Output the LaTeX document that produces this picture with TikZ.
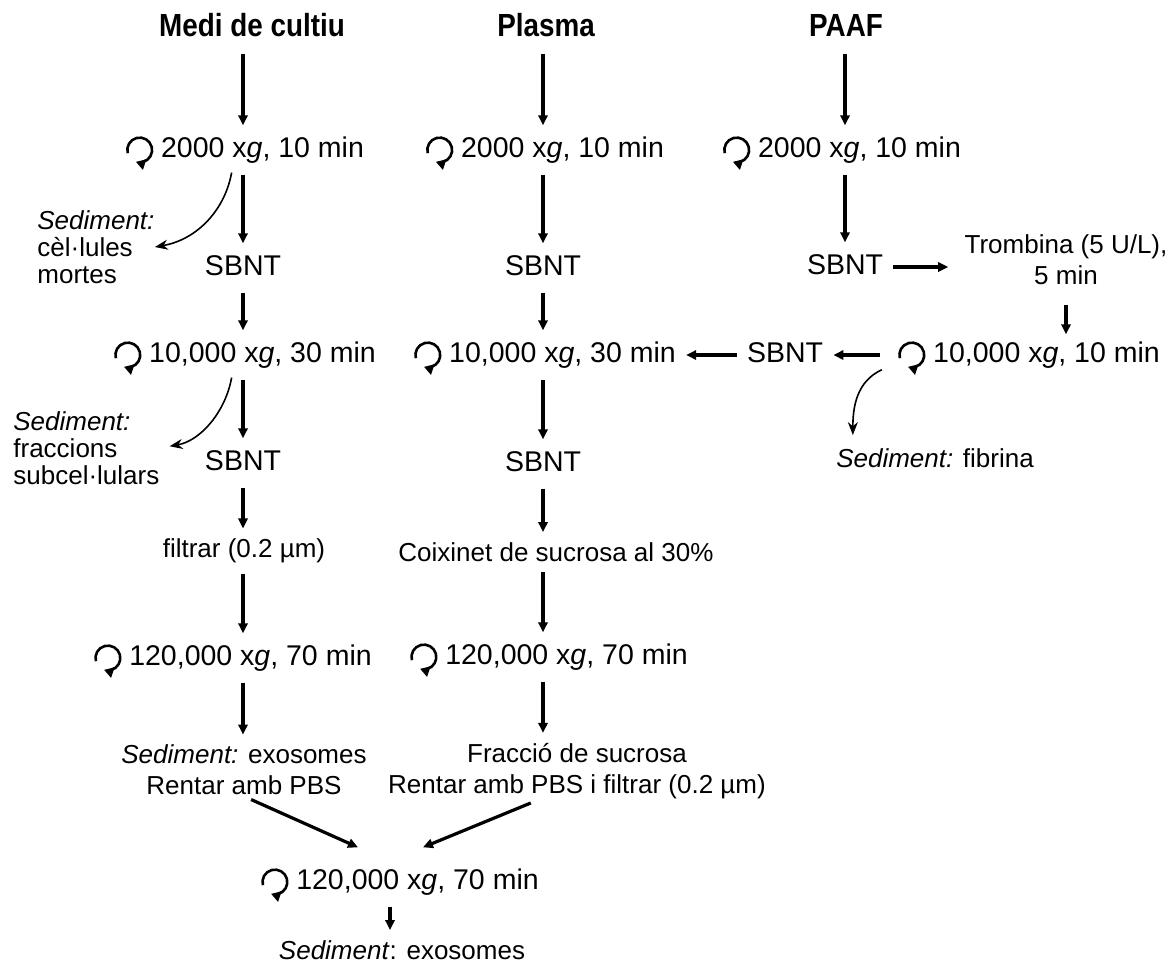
\documentclass[tikz,border=0pt]{standalone}
\usepackage{fontspec}
\setmainfont{Liberation Sans}
\newfontfamily\headfont[FakeStretch=0.87]{Liberation Sans}
\usepackage{tikz}
\usetikzlibrary{arrows.meta}

\begin{document}
\begin{tikzpicture}[x=0.5pt, y=-0.5pt,
    ttl/.style={font=\headfont\bfseries\fontsize{16}{19}\selectfont, inner sep=0pt, text height=12pt, text depth=4pt},
    big/.style={font=\fontsize{14.25}{17}\selectfont, inner sep=0pt, text height=10.7pt, text depth=3.6pt},
    cfg/.style={big, execute at begin node={\hspace*{17.5pt}}},
    lbl/.style={font=\fontsize{13}{15.5}\selectfont, inner sep=0pt},
    sedlbl/.style={font=\fontsize{13}{13.5}\selectfont, inner sep=0pt, align=left, anchor=west},
    arr/.style={line width=1.6pt, -{Triangle[length=5pt,width=4.6pt]}, shorten <=5pt, shorten >=5pt},
    curly/.style={line width=0.8pt, -{Stealth[length=6.5pt,width=5pt]}},
    spin/.pic={\draw[line width=1.3pt, -{Triangle[length=4.6pt,width=5.2pt]}] (195:6.2pt) arc[start angle=195, end angle=-108, radius=6.2pt];}]
    \useasboundingbox (0,0) rectangle (1171,970);

    % sources
    \node[ttl] (tL) at (252,28) {Medi de cultiu};
    \node[ttl] (tM) at (546,28) {Plasma};
    \node[ttl] (tR) at (846,28) {PAAF};

    % medi de cultiu
    \node[cfg] (aL1) at (245,150) {2000 x\textit{g}, 10 min};
    \node[big] (sL1) at (243,268) {SBNT};
    \node[sedlbl] (cL1) at (37,247) {\textit{Sediment:}\\cèl·lules\\mortes};
    \node[cfg] (aL2) at (245,355) {10,000 x\textit{g}, 30 min};
    \node[sedlbl] (cL2) at (13,448) {\textit{Sediment:}\\fraccions\\subcel·lulars};
    \node[big] (sL2) at (243,463) {SBNT};
    \node[lbl] (fL) at (244,551) {filtrar (0.2 µm)};
    \node[cfg] (aL3) at (233,658) {120,000 x\textit{g}, 70 min};
    \node[lbl, align=center] (eL) at (244,770) {\textit{Sediment:} exosomes\\Rentar amb PBS};

    % plasma
    \node[cfg] (aM1) at (545,150) {2000 x\textit{g}, 10 min};
    \node[big] (sM1) at (543,268) {SBNT};
    \node[cfg] (aM2) at (545,355) {10,000 x\textit{g}, 30 min};
    \node[big] (sM2) at (543,464) {SBNT};
    \node[lbl] (cM) at (556,552) {Coixinet de sucrosa al 30\%};
    \node[cfg] (aM3) at (549,657) {120,000 x\textit{g}, 70 min};
    \node[lbl, align=center] (fM) at (577,771) {Fracció de sucrosa\\Rentar amb PBS i filtrar (0.2 µm)};

    % PAAF
    \node[cfg] (aR1) at (842,150) {2000 x\textit{g}, 10 min};
    \node[big] (sR1) at (845,267) {SBNT};
    \node[lbl, align=center] (trR) at (1066,260) {Trombina (5 U/L),\\5 min};
    \node[cfg] (aR2) at (1029,355) {10,000 x\textit{g}, 10 min};
    \node[big] (sR2) at (785,355) {SBNT};
    \node[lbl] (cR) at (935,458) {\textit{Sediment:} fibrina};

    % pooled
    \node[cfg] (aB) at (400,882) {120,000 x\textit{g}, 70 min};
    \node[lbl] (eB) at (402,950) {\textit{Sediment}: exosomes};

    % rotor icons
    \foreach \n in {aL1,aL2,aL3,aM1,aM2,aM3,aR1,aR2,aB}
        \pic at ([xshift=7pt]\n.west) {spin};

    % columns
    \foreach \a/\b/\c in {tL/aL1/sL1, aL1/sL1/sL1, sL1/aL2/sL1, aL2/sL2/sL1, sL2/fL/sL1, fL/aL3/sL1, aL3/eL/sL1,
                          tM/aM1/sM1, aM1/sM1/sM1, sM1/aM2/sM1, aM2/sM2/sM1, sM2/cM/sM1, cM/aM3/sM1, aM3/fM/sM1,
                          tR/aR1/sR1, aR1/sR1/sR1}
        \draw[arr] (\a.south -| \c) -- (\b.north -| \c);

    % PAAF side branch
    \draw[arr, shorten >=8pt] (sR1.east) -- (trR.west |- sR1);
    \draw[arr, shorten <=10pt, shorten >=3pt] (trR.south) -- (trR.south |- aR2.north);
    \draw[arr, shorten <=9pt] (aR2.west) -- (sR2.east);
    \draw[arr] (sR2.west) -- (aM2.east |- sR2);

    % pellets
    \draw[curly, shorten <=4pt] ([xshift=-6pt]aL1.south) to[out=-100, in=10] (cL1.east);
    \draw[curly, shorten <=4pt, shorten >=5pt] ([xshift=-6pt]aL2.south) to[out=-100, in=10] (cL2.east);
    \draw[curly] ([xshift=-8pt]aR2.south west) to[out=205, in=90] ([xshift=8.5pt,yshift=6.5pt]cR.north west);

    % pooling
    \draw[arr, shorten >=0pt] ([xshift=-1pt]eL.south) -- ([xshift=-21pt,yshift=10pt]aB.north);
    \draw[arr, shorten >=0pt] ([xshift=-18.5pt]fM.south) -- ([xshift=11.5pt,yshift=10pt]aB.north);
    \draw[arr] ([xshift=-5pt]aB.south) -- ([xshift=-5pt]aB.south |- eB.north);
\end{tikzpicture}
\end{document}
